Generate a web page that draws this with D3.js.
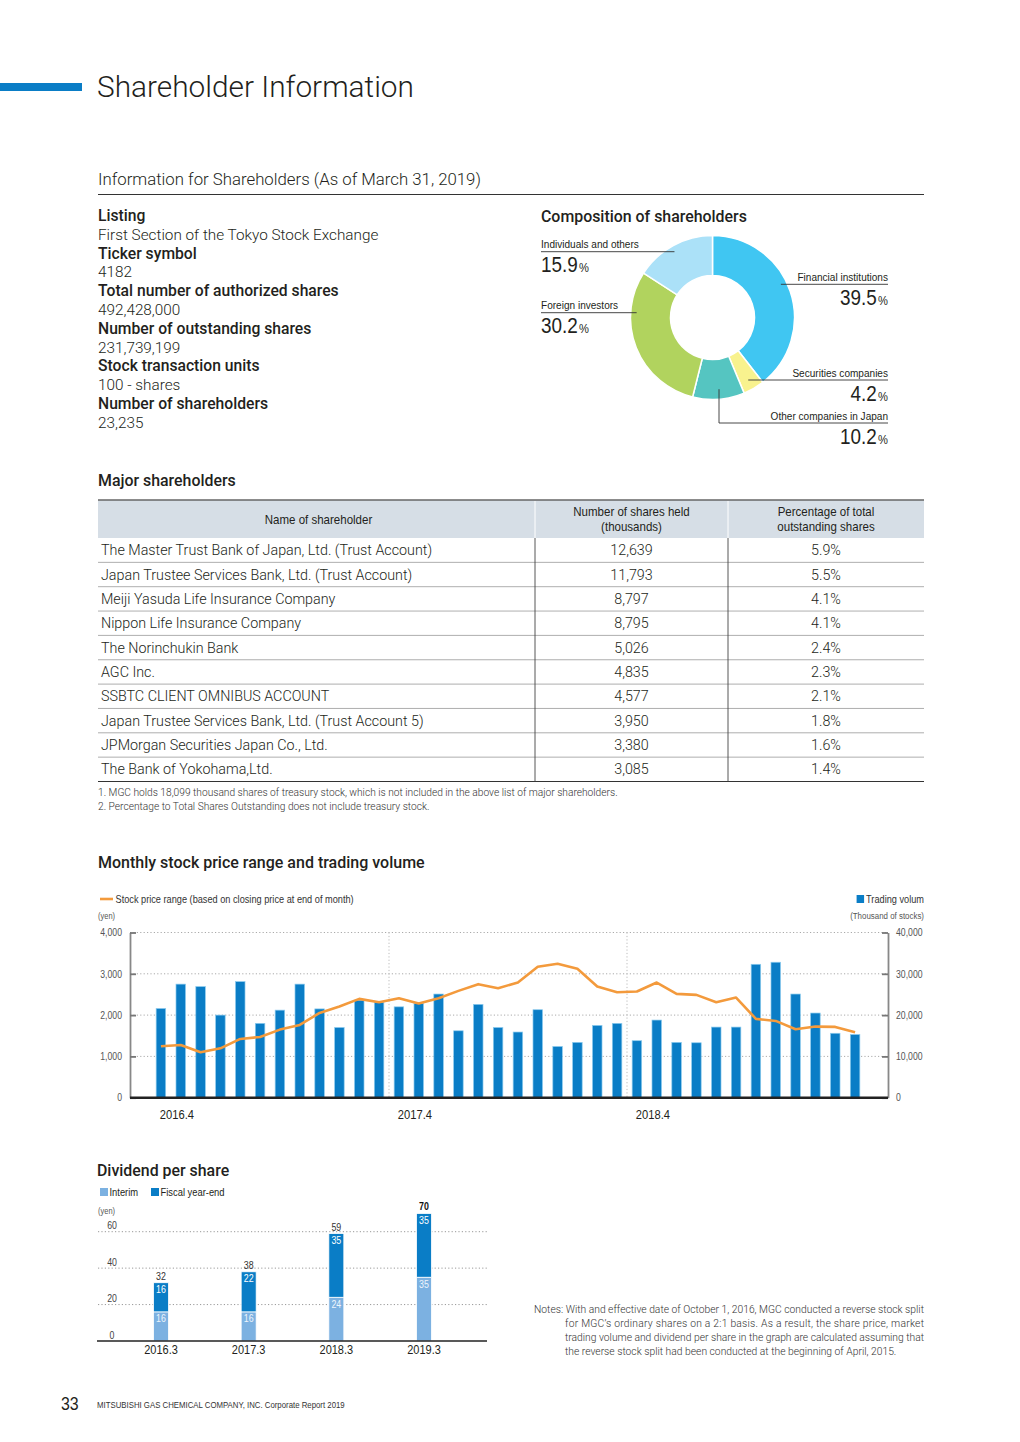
<!DOCTYPE html>
<html><head><meta charset="utf-8">
<script src="https://cdn.jsdelivr.net/npm/d3@7/dist/d3.min.js"></script>
<style>
html,body{margin:0;padding:0;background:#fff;}
svg{display:block;}
.lt{font-family:'Helvetica Neue',Roboto,'Liberation Sans',Arial,sans-serif;font-weight:300;fill:#231f20;}
.md{font-family:'Helvetica Neue',Roboto,'Liberation Sans',Arial,sans-serif;font-weight:500;fill:#231f20;}
.cd{font-family:'Liberation Sans',Arial,sans-serif;fill:#231f20;}
</style>
</head><body>
<svg id="page" width="1020" height="1442"></svg>
<script>
// ---------- DATA ----------
const infoLabels = ["Listing","Ticker symbol","Total number of authorized shares","Number of outstanding shares","Stock transaction units","Number of shareholders"];
const infoValues = ["First Section of the Tokyo Stock Exchange","4182","492,428,000","231,739,199","100 - shares","23,235"];

const compCategories = ["Financial institutions","Securities companies","Other companies in Japan","Foreign investors","Individuals and others"];
const compValues = [39.5, 4.2, 10.2, 30.2, 15.9];
const compColors = ["#40c6f2","#f8f28e","#55c5c1","#b1d35e","#abe1f8"];

const shareholderNames = ["The Master Trust Bank of Japan, Ltd. (Trust Account)","Japan Trustee Services Bank, Ltd. (Trust Account)","Meiji Yasuda Life Insurance Company","Nippon Life Insurance Company","The Norinchukin Bank","AGC Inc.","SSBTC CLIENT OMNIBUS ACCOUNT","Japan Trustee Services Bank, Ltd. (Trust Account 5)","JPMorgan Securities Japan Co., Ltd.","The Bank of Yokohama,Ltd."];
const sharesHeld = ["12,639","11,793","8,797","8,795","5,026","4,835","4,577","3,950","3,380","3,085"];
const sharePct = ["5.9%","5.5%","4.1%","4.1%","2.4%","2.3%","2.1%","1.8%","1.6%","1.4%"];

const months = ["2016.4","2016.5","2016.6","2016.7","2016.8","2016.9","2016.10","2016.11","2016.12","2017.1","2017.2","2017.3",
"2017.4","2017.5","2017.6","2017.7","2017.8","2017.9","2017.10","2017.11","2017.12","2018.1","2018.2","2018.3",
"2018.4","2018.5","2018.6","2018.7","2018.8","2018.9","2018.10","2018.11","2018.12","2019.1","2019.2","2019.3"];
const stockPrice = [1245,1277,1100,1196,1423,1471,1649,1762,2053,2207,2393,2312,
2409,2280,2409,2587,2749,2652,2789,3169,3242,3120,2692,2555,
2571,2789,2514,2490,2312,2425,1908,1859,1657,1722,1714,1584];
const tradingVolume = [21600,27500,26900,20000,28100,18000,21200,27500,21500,17000,23600,23100,
22000,22800,25100,16200,22600,17000,15900,21300,12400,13400,17500,18000,
13800,18800,13400,13300,17100,17100,32300,32800,25100,20500,15600,15300];
const priceTicks = [0,1000,2000,3000,4000];
const volumeTicks = [0,10000,20000,30000,40000];
const yearMarks = ["2016.4","2017.4","2018.4"];

const divYears = ["2016.3","2017.3","2018.3","2019.3"];
const divInterim = [16,16,24,35];
const divYearEnd = [16,22,35,35];
const divTotal = [32,38,59,70];
const divTicks = [0,20,40,60];

const notesLines = ["Notes: With and effective date of October 1, 2016, MGC conducted a reverse stock split",
"for MGC\u2019s ordinary shares on a 2:1 basis. As a result, the share price, market",
"trading volume and dividend per share in the graph are calculated assuming that",
"the reverse stock split had been conducted at the beginning of April, 2015."];

// ---------- HELPERS ----------
const svg = d3.select("#page");
const BLUE = "#0a7dc6";
const CS = 0.86; // horizontal condensing factor
function ct(parent, x, y, str, size, anchor, fill){
  const t = parent.append("text").attr("class","cd")
    .attr("transform",`translate(${x},${y}) scale(${CS},1)`)
    .attr("font-size",size).text(str);
  if(anchor) t.attr("text-anchor",anchor);
  if(fill) t.style("fill",fill);
  return t;
}

// header
svg.append("rect").attr("x",0).attr("y",83).attr("width",82).attr("height",8).attr("fill",BLUE);
svg.append("text").attr("class","lt").attr("x",97).attr("y",97).attr("font-size",29.8).text("Shareholder Information");
svg.append("text").attr("class","lt").attr("x",98).attr("y",185).attr("font-size",16.8).text("Information for Shareholders (As of March 31, 2019)");
svg.append("line").attr("x1",98).attr("x2",924).attr("y1",194.5).attr("y2",194.5).attr("stroke","#333").attr("stroke-width",1);

// info block
infoLabels.forEach((l,i)=>{
  svg.append("text").attr("class","md").attr("x",98).attr("y",221+i*2*18.8).attr("font-size",15.7).text(l);
  svg.append("text").attr("class","lt").attr("x",98).attr("y",221+(i*2+1)*18.8).attr("font-size",15.3).text(infoValues[i]);
});

// ---------- DONUT ----------
svg.append("text").attr("class","md").attr("x",541).attr("y",222).attr("font-size",15.9).text("Composition of shareholders");
const cx=712.5, cy=317.5, rOut=82, rIn=42;
const pie = d3.pie().sort(null).value(d=>d)(compValues);
const arc = d3.arc().innerRadius(rIn).outerRadius(rOut);
const dg = svg.append("g").attr("transform",`translate(${cx},${cy})`);
dg.selectAll("path").data(pie).join("path").attr("d",arc).attr("fill",(d,i)=>compColors[i]).attr("stroke","#fff").attr("stroke-width",1.5);

const compLayout = [
  {side:"right", ly:284.3, r:76},
  {side:"right", ly:380, r:72},
  {side:"bottom", ly:423, vx:719, r:72},
  {side:"left", ly:312.7, r:76},
  {side:"left", ly:251.7, r:76}
];
compLayout.forEach((L,i)=>{
  const name = compCategories[i], pct = compValues[i].toFixed(1);
  let anchor,tx;
  const lg = svg.append("g");
  if(L.side==="left"){
    const dx = Math.sqrt(L.r*L.r-(L.ly-cy)*(L.ly-cy));
    anchor="start"; tx=541;
    lg.append("line").attr("x1",541).attr("x2",cx-dx).attr("y1",L.ly).attr("y2",L.ly);
  } else if(L.side==="right"){
    const dx = Math.sqrt(L.r*L.r-(L.ly-cy)*(L.ly-cy));
    anchor="end"; tx=888;
    lg.append("line").attr("x1",cx+dx).attr("x2",888).attr("y1",L.ly).attr("y2",L.ly);
  } else {
    const vy = cy+Math.sqrt(L.r*L.r-(L.vx-cx)*(L.vx-cx));
    anchor="end"; tx=888;
    lg.append("polyline").attr("points",`${L.vx},${vy} ${L.vx},${L.ly} 888,${L.ly}`).attr("fill","none");
  }
  lg.selectAll("line,polyline").attr("stroke","#333").attr("stroke-width",0.9);
  ct(svg, tx, L.ly-3.5, name, 11.7, anchor);
  const t = ct(svg, tx, L.ly+20.5, "", 22, anchor);
  t.append("tspan").text(pct);
  t.append("tspan").attr("font-size",13).attr("dx",1.5).text("%");
});

// ---------- TABLE ----------
svg.append("text").attr("class","md").attr("x",98).attr("y",486).attr("font-size",15.9).text("Major shareholders");
const tX0=98, tX1=535, tX2=728, tX3=924, tTop=500, tHead=538, rowH=24.35;
svg.append("rect").attr("x",tX0).attr("y",tTop).attr("width",tX3-tX0).attr("height",tHead-tTop).attr("fill","#d6dee6");
svg.append("line").attr("x1",tX0).attr("x2",tX3).attr("y1",tTop).attr("y2",tTop).attr("stroke","#666").attr("stroke-width",1.6);
[tX1,tX2].forEach(x=>svg.append("line").attr("x1",x).attr("x2",x).attr("y1",tTop+1).attr("y2",tHead).attr("stroke","#fff").attr("stroke-width",1));
ct(svg,(tX0+tX1)/2+2,524,"Name of shareholder",13.4,"middle");
[["Number of shares held","(thousands)",(tX1+tX2)/2],["Percentage of total","outstanding shares",(tX2+tX3)/2]].forEach(h=>{
  ct(svg,h[2],516,h[0],13.4,"middle");
  ct(svg,h[2],531,h[1],13.4,"middle");
});
const rowY = d3.scaleBand().domain(d3.range(shareholderNames.length)).range([tHead, tHead+rowH*shareholderNames.length]);
const rows = svg.append("g").selectAll("g").data(shareholderNames).join("g");
rows.append("text").attr("class","lt").attr("x",101).attr("y",(d,i)=>rowY(i)+rowH/2+5).attr("font-size",14.3).text(d=>d);
rows.append("text").attr("class","lt").attr("x",(tX1+tX2)/2).attr("y",(d,i)=>rowY(i)+rowH/2+5).attr("font-size",14.3).attr("text-anchor","middle").text((d,i)=>sharesHeld[i]);
rows.append("text").attr("class","lt").attr("x",(tX2+tX3)/2).attr("y",(d,i)=>rowY(i)+rowH/2+5).attr("font-size",14.3).attr("text-anchor","middle").text((d,i)=>sharePct[i]);
rows.append("line").attr("x1",tX0).attr("x2",tX3).attr("y1",(d,i)=>rowY(i)+rowH).attr("y2",(d,i)=>rowY(i)+rowH)
  .attr("stroke",(d,i)=>i===shareholderNames.length-1?"#333":"#999").attr("stroke-width",(d,i)=>i===shareholderNames.length-1?1.1:0.8);
[tX1,tX2].forEach(x=>svg.append("line").attr("x1",x).attr("x2",x).attr("y1",tHead).attr("y2",tHead+rowH*shareholderNames.length).attr("stroke","#444").attr("stroke-width",0.9));
svg.append("text").attr("class","lt").attr("x",98).attr("y",796).attr("font-size",10.2).style("fill","#333").text("1. MGC holds 18,099 thousand shares of treasury stock, which is not included in the above list of major shareholders.");
svg.append("text").attr("class","lt").attr("x",98).attr("y",810).attr("font-size",10.2).style("fill","#333").text("2. Percentage to Total Shares Outstanding does not include treasury stock.");

// ---------- STOCK CHART ----------
svg.append("text").attr("class","md").attr("x",98).attr("y",868).attr("font-size",16).text("Monthly stock price range and trading volume");
const pL=130, pR=888, pT=932.5, pB=1097.7;
const x = d3.scaleBand().domain(months).range([151,865]).paddingInner(0.52).paddingOuter(0.26);
const yP = d3.scaleLinear().domain([0,4000]).range([pB,pT]);
const yV = d3.scaleLinear().domain([0,40000]).range([pB,pT]);
const sg = svg.append("g");
sg.selectAll("line.hg").data(priceTicks.filter(t=>t>0)).join("line").attr("class","hg")
  .attr("x1",pL).attr("x2",pR).attr("y1",d=>yP(d)).attr("y2",d=>yP(d))
  .attr("stroke","#aaa").attr("stroke-width",1).attr("stroke-dasharray","1.2,2.2");
sg.selectAll("line.vg").data(yearMarks.slice(1)).join("line").attr("class","vg")
  .attr("x1",d=>x(d)+x.bandwidth()/2-x.step()/2).attr("x2",d=>x(d)+x.bandwidth()/2-x.step()/2)
  .attr("y1",pT).attr("y2",pB).attr("stroke","#bbb").attr("stroke-width",1).attr("stroke-dasharray","1.2,2.2");
sg.selectAll("rect.vb").data(tradingVolume).join("rect").attr("class","vb")
  .attr("x",(d,i)=>x(months[i])).attr("width",x.bandwidth())
  .attr("y",d=>yV(d)).attr("height",d=>pB-yV(d))
  .attr("fill",BLUE).attr("stroke","#8ccbee").attr("stroke-width",0.7);
sg.append("path").datum(stockPrice)
  .attr("d",d3.line().x((d,i)=>x(months[i])+x.bandwidth()/2).y(d=>yP(d)))
  .attr("fill","none").attr("stroke","#f39a3c").attr("stroke-width",2.6).attr("stroke-linejoin","round");
const axL = sg.append("g").attr("transform",`translate(${pL},0)`)
  .call(d3.axisLeft(yP).tickValues(priceTicks).tickSize(-6).tickSizeOuter(0).tickPadding(8).tickFormat(d3.format(",")));
const axR = sg.append("g").attr("transform",`translate(${pR},0)`)
  .call(d3.axisRight(yV).tickValues(volumeTicks).tickSize(-6).tickSizeOuter(0).tickPadding(8).tickFormat(d3.format(",")));
[axL,axR].forEach(a=>{
  a.select(".domain").attr("stroke","#888").attr("stroke-width",1.8);
  a.selectAll(".tick line").attr("stroke","#777").attr("stroke-width",1.8);
  a.selectAll(".tick text").attr("class","cd").attr("font-size",10.1).style("fill","#555").each(function(){
    const s=d3.select(this); s.attr("x",(+s.attr("x"))/CS).attr("transform",`scale(${CS},1)`);
  });
});
sg.append("line").attr("x1",pL).attr("x2",pR).attr("y1",pB).attr("y2",pB).attr("stroke","#222").attr("stroke-width",2.6);
yearMarks.forEach(m=>ct(sg, x(m)+x.bandwidth()/2+16, 1118.5, m, 13, "middle"));
// legend
svg.append("line").attr("x1",100).attr("x2",113).attr("y1",899).attr("y2",899).attr("stroke","#f39a3c").attr("stroke-width",2.6);
ct(svg,115.5,903,"Stock price range (based on closing price at end of month)",10.7,null,"#333");
const tv = ct(svg,924,903,"Trading volum",10.7,"end","#333");
const tvW = tv.node().getComputedTextLength()*CS;
svg.append("rect").attr("x",924-tvW-9.5).attr("y",895).attr("width",7.5).attr("height",8).attr("fill",BLUE);
ct(svg,98,919,"(yen)",8.7,null,"#555");
ct(svg,924,919,"(Thousand of stocks)",9.2,"end","#555");

// ---------- DIVIDEND ----------
svg.append("text").attr("class","md").attr("x",97).attr("y",1176).attr("font-size",15.9).text("Dividend per share");
const LIGHT="#7cb1e1";
svg.append("rect").attr("x",100).attr("y",1188).attr("width",8).attr("height",8).attr("fill",LIGHT);
ct(svg,109.5,1196,"Interim",10.9);
svg.append("rect").attr("x",151).attr("y",1188).attr("width",8).attr("height",8).attr("fill",BLUE);
ct(svg,160.5,1196,"Fiscal year-end",10.9);
ct(svg,98,1214,"(yen)",8.7,null,"#555");
const dx = d3.scalePoint().domain(divYears).range([161,424]);
const dy = d3.scaleLinear().domain([0,60]).range([1341,1231.7]);
const bw = 15;
const dgp = svg.append("g");
dgp.selectAll("line.dg").data(divTicks.filter(t=>t>0)).join("line")
  .attr("x1",98).attr("x2",487).attr("y1",d=>dy(d)).attr("y2",d=>dy(d))
  .attr("stroke","#999").attr("stroke-width",1).attr("stroke-dasharray","1.2,2.2");
divTicks.forEach(t=>ct(dgp,112,dy(t)-2.5,String(t),10.2,"middle","#444"));
dgp.selectAll("rect.di").data(divInterim).join("rect")
  .attr("x",(d,i)=>dx(divYears[i])-bw/2).attr("width",bw).attr("y",d=>dy(d)).attr("height",d=>dy(0)-dy(d))
  .attr("fill",LIGHT).attr("stroke","#fff").attr("stroke-width",0.8);
dgp.selectAll("rect.dye").data(divYearEnd).join("rect")
  .attr("x",(d,i)=>dx(divYears[i])-bw/2).attr("width",bw)
  .attr("y",(d,i)=>dy(divInterim[i]+d)).attr("height",(d,i)=>dy(divInterim[i])-dy(divInterim[i]+d))
  .attr("fill",BLUE).attr("stroke","#fff").attr("stroke-width",0.8);
divInterim.forEach((d,i)=>ct(dgp,dx(divYears[i]),dy(d)+10.5,String(d),10.3,"middle","#eef5fc"));
divYearEnd.forEach((d,i)=>ct(dgp,dx(divYears[i]),dy(divInterim[i]+d)+10.5,String(d),10.3,"middle","#ffffff"));
divTotal.forEach((d,i)=>{
  const t = ct(dgp,dx(divYears[i]),dy(d)-3,String(d),10.3,"middle","#333");
  if(i===divTotal.length-1) t.attr("font-weight","bold").style("fill","#111");
});
dgp.append("line").attr("x1",97).attr("x2",487).attr("y1",1341).attr("y2",1341).attr("stroke","#222").attr("stroke-width",1.5);
divYears.forEach(d=>ct(dgp,dx(d),1354,d,12.8,"middle"));

// notes
notesLines.forEach((l,i)=>{
  const t = svg.append("text").attr("class","lt").attr("x",i===0?534:565).attr("y",1312.5+i*14).attr("font-size",10.3).style("fill","#333").text(l);
  if(i<notesLines.length-1) t.attr("textLength",i===0?390:359).attr("lengthAdjust","spacing");
});

// footer
ct(svg,61,1410,"33",18.5);
ct(svg,97,1407.5,"MITSUBISHI GAS CHEMICAL COMPANY, INC.  Corporate Report 2019",9.1,null,"#333");
</script>
</body></html>
